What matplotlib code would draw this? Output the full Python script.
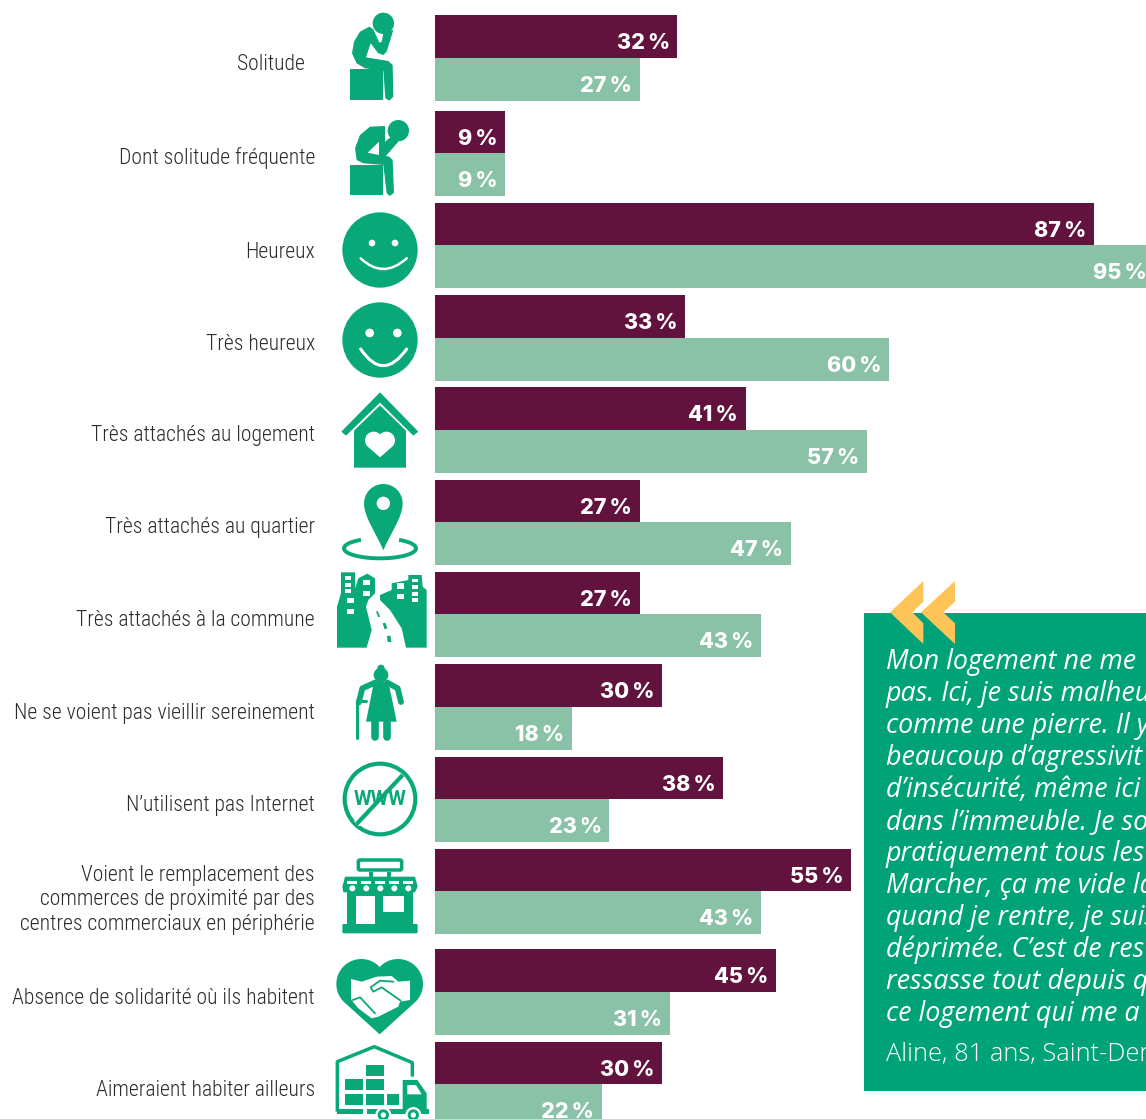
import numpy as np
import matplotlib
matplotlib.use("Agg")
import matplotlib.pyplot as plt
from matplotlib.patches import Circle, Polygon, Rectangle, PathPatch, FancyBboxPatch
from matplotlib.path import Path

categories = ["Solitude", "Dont solitude fréquente", "Heureux", "Très heureux",
              "Très attachés au logement", "Très attachés au quartier",
              "Très attachés à la commune", "Ne se voient pas vieillir sereinement",
              "N’utilisent pas Internet",
              "Voient le remplacement des\ncommerces de proximité par des\ncentres commerciaux en périphérie",
              "Absence de solidarité où ils habitent", "Aimeraient habiter ailleurs"]
dark_vals = [32, 9.25, 87, 33, 41, 27, 27, 30, 38, 55, 45, 30]
light_vals = [27, 9.25, 95, 60, 57, 47, 43, 18, 23, 43, 31, 22]

quote_lines = ["Mon logement ne me", "pas. Ici, je suis malheu", "comme une pierre. Il y",
               "beaucoup d’agressivit", "d’insécurité, même ici", "dans l’immeuble. Je so",
               "pratiquement tous les", "Marcher, ça me vide la", "quand je rentre, je suis",
               "déprimée. C’est de res", "ressasse tout depuis q", "ce logement qui me a"]
quote_author = "Aline, 81 ans, Saint-Deni"

# pixel layout of the original
W, H = 1146, 1119
row_mid = [58, 153.4, 245.4, 338, 430, 522.4, 614.4, 707, 799.4, 891.4, 992, 1084.4]
label_y = [65, 158, 252, 344, 436, 528, 621, 713, 805, 900, 998, 1090]
BAR_H = 42.7
BAR_X0 = 435.4
PX_PER_UNIT = 7.565
GREEN = "#08A878"
DARK = "#62133D"
LIGHT = "#89C2A7"
BOX = "#00A377"
YELLOW = "#FFC457"
LABEL_FONT = "Roboto Condensed"
VALUE_FONT = "Inter"
QUOTE_FONT = "Open Sans"

fig = plt.figure(figsize=(W / 100, H / 100), dpi=100)
ax = fig.add_axes([0, 0, 1, 1])
ax.set_xlim(0, W)
ax.set_ylim(H, 0)
ax.axis("off")

ax_bars = fig.add_axes([BAR_X0 / W, 0, (W - BAR_X0) / W, 1])
ax_bars.set_xlim(0, (W - BAR_X0) / PX_PER_UNIT)
ax_bars.set_ylim(H, 0)
ax_bars.axis("off")

mids = np.array(row_mid)
ax_bars.barh(mids - BAR_H / 2, dark_vals, height=BAR_H, color=DARK, linewidth=0)
ax_bars.barh(mids + BAR_H / 2, light_vals, height=BAR_H, color=LIGHT, linewidth=0)

for vals, off in ((dark_vals, -BAR_H / 2), (light_vals, BAR_H / 2)):
    for m, v in zip(mids, vals):
        ax_bars.annotate(f"{round(v)}\u2009%", (v, m + off), xytext=(-5.5, -4.8),
                         textcoords="offset points", ha="right", va="center",
                         color="white", fontsize=15.5, fontweight=800,
                         family=VALUE_FONT, annotation_clip=False)

for name, y in zip(categories, label_y):
    x = 305 if name == "Solitude" else 315
    ax.text(x, y, name, ha="right", va="center", fontsize=15.6, color="#2b2b2b",
            family=LABEL_FONT, fontweight=300, linespacing=1.23)


# icon helpers, coordinates are taken from 3x crops of the picture
def pts(raw, ox, oy):
    return [(ox + x / 3, oy + y / 3) for x, y in raw]


def poly(raw, ox, oy, color=GREEN):
    ax.add_patch(Polygon(pts(raw, ox, oy), closed=True, fc=color, ec="none"))


def circ(x, y, r, ox, oy, color=GREEN):
    ax.add_patch(Circle((ox + x / 3, oy + y / 3), r / 3, fc=color, ec="none"))


def box(x0, y0, x1, y1, ox, oy, color=GREEN):
    ax.add_patch(Rectangle((ox + x0 / 3, oy + y0 / 3), (x1 - x0) / 3, (y1 - y0) / 3,
                           fc=color, ec="none"))


def line(raw, ox, oy, lw, color=GREEN, cap="round"):
    p = np.array(pts(raw, ox, oy))
    ax.plot(p[:, 0], p[:, 1], color=color, lw=lw, solid_capstyle=cap, solid_joinstyle="round")


def heart(cx, top, w, bottom, ox, oy, color):
    # two overlapping lobes and a tip
    r = 0.577 * w / 2
    d = 0.423 * w / 2
    a0 = np.arctan2(-np.sqrt(r ** 2 - d ** 2), d)
    ang = np.linspace(a0, np.radians(-225), 50)
    left = [(cx - d + r * np.cos(a), top + r + r * np.sin(a)) for a in ang]
    right = [(2 * cx - x, y) for x, y in reversed(left)]
    poly(left + [(cx, bottom)] + right, ox, oy, color)


def smile(a, mid, c, ox, oy, lw):
    p = np.array(pts([a, mid, c], ox, oy))
    ctrl = 2 * p[1] - (p[0] + p[2]) / 2
    ax.add_patch(PathPatch(Path([p[0], ctrl, p[2]], [Path.MOVETO, Path.CURVE3, Path.CURVE3]),
                           fc="none", ec="white", lw=lw, capstyle="round"))


# thinker 1
circ(160, 70, 32, 330, 0)
box(60, 207, 158, 300, 330, 0)
poly([(118, 80), (90, 95), (72, 125), (66, 160), (80, 190), (105, 205), (160, 212), (166, 295),
      (178, 302), (190, 290), (188, 195), (175, 183), (108, 172), (122, 130), (145, 160),
      (160, 165), (170, 155), (190, 90), (160, 100), (155, 125), (148, 128), (130, 88)], 330, 0)

# thinker 2
circ(205, 392, 32, 330, 0)
box(60, 495, 160, 585, 330, 0)
poly([(165, 378), (120, 380), (90, 405), (75, 445), (80, 480), (100, 490), (160, 495), (170, 580),
      (180, 588), (192, 578), (188, 480), (178, 470), (168, 468), (205, 425), (190, 405), (165, 425)], 330, 0)
poly([(113, 458), (147, 425), (147, 465)], 330, 0, "white")

# faces
circ(150, 750, 113, 330, 0)
circ(126, 729, 10, 330, 0, "white")
circ(195, 729, 10, 330, 0, "white")
smile((92, 775), (160, 807), (230, 775), 330, 0, 1.8)
circ(150, 1020, 113, 330, 0)
circ(119, 999, 13, 330, 0, "white")
circ(202, 999, 13, 330, 0, "white")
smile((92, 1047), (160, 1097), (230, 1047), 330, 0, 2.2)

# house
poly([(150, 37), (265, 155), (250, 167), (150, 68), (48, 167), (34, 155)], 330, 380)
poly([(150, 76), (228, 152), (228, 263), (72, 263), (72, 152)], 330, 380)
heart(150, 155, 90, 232, 330, 380, "white")

# pin
ox, oy = 330, 380
c = np.array(pts([(160, 370)], ox, oy)[0])
r = 58 / 3
k = 0.5523 * r
pin = [(c[0] - r, c[1]), (c[0] - r, c[1] - k), (c[0] - k, c[1] - r), (c[0], c[1] - r),
       (c[0] + k, c[1] - r), (c[0] + r, c[1] - k), (c[0] + r, c[1]),
       (c[0] + r, c[1] + 14), (c[0] + 7, c[1] + 30), (c[0], c[1] + 47),
       (c[0] - 7, c[1] + 30), (c[0] - r, c[1] + 14), (c[0] - r, c[1])]
ax.add_patch(PathPatch(Path(pin, [Path.MOVETO] + [Path.CURVE4] * 12), fc=GREEN, ec="none"))
circ(160, 370, 20, ox, oy, "white")
t = np.radians(np.linspace(-58, 238, 80))
ax.plot(ox + (150 + 108 * np.cos(t)) / 3, oy + (505 + 30 * np.sin(t)) / 3, color=GREEN, lw=2.8,
        solid_capstyle="butt")

# city
poly([(33, 577), (75, 577), (75, 625), (85, 595), (112, 581), (135, 595), (135, 640), (115, 660),
      (108, 680), (125, 750), (110, 803), (21, 803), (21, 680), (33, 640)], ox, oy)
poly([(185, 610), (235, 600), (235, 585), (275, 585), (278, 620), (290, 630), (290, 803), (228, 803),
      (215, 745), (180, 690), (150, 660), (150, 645), (185, 630)], ox, oy)
for b in [(46, 588, 62, 600), (46, 608, 62, 620), (46, 627, 62, 638), (52, 654, 72, 668), (52, 687, 72, 703),
          (99, 600, 120, 615), (99, 632, 120, 648), (200, 610, 222, 626), (200, 643, 222, 658),
          (247, 596, 263, 607), (247, 615, 263, 627), (247, 635, 263, 647), (247, 655, 263, 667)]:
    box(*b, ox, oy, "white")
poly([(138, 695), (143, 693), (150, 710), (145, 712)], ox, oy)
poly([(158, 730), (166, 728), (172, 745), (164, 748)], ox, oy)
poly([(171, 768), (181, 767), (184, 786), (173, 786)], ox, oy)

# old woman
circ(153, 885, 22, ox, oy)
circ(153, 865, 11, ox, oy)
poly([(132, 905), (175, 905), (200, 1025), (108, 1025)], ox, oy)
line([(135, 908), (97, 925), (86, 968)], ox, oy, 4.2)
line([(172, 908), (203, 925), (213, 966)], ox, oy, 4.2)
line([(136, 1025), (136, 1072)], ox, oy, 5.5)
line([(171, 1025), (171, 1072)], ox, oy, 5.5)
line([(81, 1075), (81, 963), (107, 963)], ox, oy, 2.2)

# no internet
ox, oy = 330, 750
ax.add_patch(Circle((ox + 150 / 3, oy + 147 / 3), 106 / 3, fc="none", ec=GREEN, lw=3))
ax.text(ox + 150 / 3, oy + 148 / 3, "WWW", ha="center", va="center", fontsize=14.5,
        fontweight="bold", color=GREEN, family="Roboto")
line([(80, 222), (218, 75)], ox, oy, 5.0, "white", "butt")
line([(80, 222), (218, 75)], ox, oy, 3.0, GREEN, "butt")

# shop
ax.add_patch(FancyBboxPatch((ox + 85 / 3, oy + 330 / 3), 130 / 3, 30 / 3, boxstyle="round,pad=0,rounding_size=1.5",
                            fc="none", ec=GREEN, lw=2.5))
box(118, 365, 128, 385, ox, oy)
box(172, 365, 182, 385, ox, oy)
poly([(45, 380), (255, 380), (263, 410), (255, 427), (40, 427), (37, 410)], ox, oy)
for x0 in (52, 94, 136, 178, 220):
    box(x0, 393, x0 + 30, 403, ox, oy, "white")
    circ(x0 + 15, 415, 9, ox, oy, "white")
box(50, 425, 248, 525, ox, oy)
box(78, 437, 135, 522, ox, oy, "white")
box(160, 437, 222, 487, ox, oy, "white")
ax.add_patch(FancyBboxPatch((ox + 37 / 3, oy + 522 / 3), 226 / 3, 28 / 3, boxstyle="round,pad=0,rounding_size=1.5",
                            fc=GREEN, ec="none"))

# handshake
heart(149, 627, 260, 853, ox, oy, GREEN)
poly([(63, 687), (95, 695), (140, 680), (185, 678), (205, 695), (240, 692), (240, 750), (210, 755),
      (205, 770), (145, 800), (125, 805), (85, 775), (63, 748)], ox, oy, "white")
line([(190, 695), (150, 692), (122, 712), (130, 725), (155, 712), (212, 752)], ox, oy, 1.3)
line([(68, 750), (90, 742), (135, 790)], ox, oy, 1.3)

# warehouse and truck
line([(22, 1085), (22, 935), (133, 890), (247, 938), (247, 980)], ox, oy, 2.5, GREEN, "butt")
for b in [(108, 945, 162, 978), (45, 988, 100, 1020), (108, 988, 162, 1020), (45, 1032, 100, 1065),
          (108, 1032, 162, 1065), (170, 1032, 207, 1065), (22, 1078, 100, 1092), (110, 1078, 297, 1092)]:
    box(*b, ox, oy)
poly([(218, 990), (262, 990), (290, 1030), (290, 1085), (218, 1085)], ox, oy)
poly([(232, 1005), (258, 1005), (275, 1033), (232, 1033)], ox, oy, "white")
for x0 in (160, 250):
    circ(x0, 1095, 24, ox, oy, "white")
    circ(x0, 1095, 17, ox, oy)
    circ(x0, 1095, 8, ox, oy, "white")

# quote box
ax.add_patch(Rectangle((864, 613), W - 864, 478, fc=BOX, ec="none"))
poly([(120, 127), (220, 33), (220, 95), (187, 127), (220, 160), (220, 222)], 850, 570, YELLOW)
poly([(213, 127), (315, 33), (315, 95), (280, 127), (315, 160), (315, 222)], 850, 570, YELLOW)
for i, s in enumerate(quote_lines):
    ax.text(886, 662 + 32 * i, s, ha="left", va="center", fontsize=19.4, color="white",
            style="italic", fontweight=500, family=QUOTE_FONT)
ax.text(886, 1054, quote_author, ha="left", va="center", fontsize=18.4, color="white",
        fontweight=300, family=QUOTE_FONT)

fig.savefig("out.png", dpi=100)
